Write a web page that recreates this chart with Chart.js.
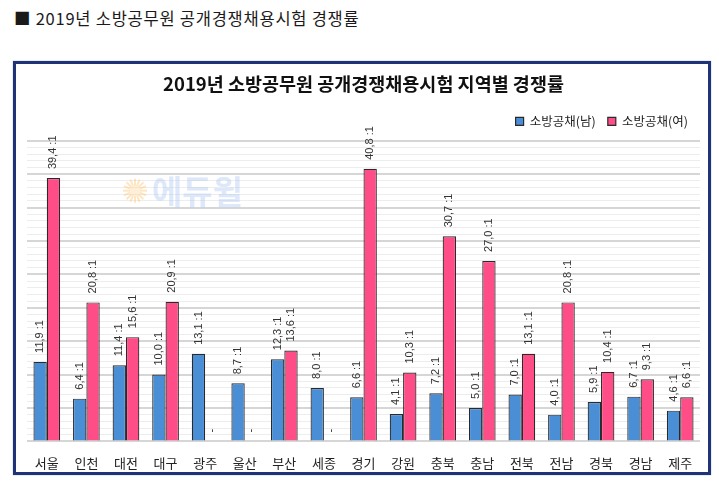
<!DOCTYPE html>
<html><head><meta charset="utf-8">
<script src="https://cdn.jsdelivr.net/npm/chart.js@4.4.1/dist/chart.umd.min.js"></script>
<style>
html,body{margin:0;padding:0;background:#fff;width:719px;height:495px;overflow:hidden;}
#head{position:absolute;left:14px;top:7px;font-family:"Noto Sans CJK KR","Noto Sans",sans-serif;font-size:16.5px;letter-spacing:0.75px;color:#1a1a1a;white-space:nowrap;line-height:22px;}
#frame{position:absolute;left:13px;top:61px;width:692px;height:408px;border:3px solid #1f3478;box-shadow:0 0 1px #8090c0;}
#wrap{position:absolute;left:0;top:0;width:719px;height:495px;}
</style></head>
<body>
<div id="head">■ 2019년 소방공무원 공개경쟁채용시험 경쟁률</div>
<div id="frame"></div>
<div id="wrap"><canvas id="c" width="719" height="495"></canvas></div>
<script>
const regions = ["서울","인천","대전","대구","광주","울산","부산","세종","경기","강원","충북","충남","전북","전남","경북","경남","제주"];
const maleRates = [11.9,6.4,11.4,10.0,13.1,8.7,12.3,8.0,6.6,4.1,7.2,5.0,7.0,4.0,5.9,6.7,4.6];
const femaleRates = [39.4,20.8,15.6,20.9,null,null,13.6,null,40.8,10.3,30.7,27.0,13.1,20.8,10.4,9.3,6.6];
const seriesNames = ["소방공채(남)","소방공채(여)"];
const chartTitle = "2019년 소방공무원 공개경쟁채용시험 지역별 경쟁률";

const fmt = v => v === null ? "-" : v.toFixed(1).replace('.', ',') + " :1";

const labelPlugin = {
  id: 'rotLabels',
  afterDatasetsDraw(chart) {
    const ctx = chart.ctx;
    ctx.save();
    ctx.font = '11px "Liberation Sans", Arial, sans-serif';
    ctx.fillStyle = '#333';
    ctx.textBaseline = 'middle';
    ctx.textAlign = 'left';
    chart.data.datasets.forEach((ds, di) => {
      const meta = chart.getDatasetMeta(di);
      meta.data.forEach((bar, i) => {
        const v = ds.data[i];
        const x = bar.x;
        const y = v === null ? chart.scales.y.getPixelForValue(0) : bar.y;
        ctx.save();
        ctx.translate(x, y - 9);
        ctx.rotate(-Math.PI / 2);
        ctx.fillText(fmt(v), 0, 0);
        ctx.restore();
      });
    });
    ctx.restore();
  }
};

const watermark = {
  id: 'wm',
  beforeDatasetsDraw(chart) {
    const ctx = chart.ctx;
    const a = chart.chartArea;
    const cx = a.left + 108, cy = a.top + 50;
    ctx.save();
    ctx.strokeStyle = 'rgba(255,200,120,0.45)';
    ctx.fillStyle = 'rgba(255,210,140,0.35)';
    ctx.lineWidth = 2;
    for (let k = 0; k < 16; k++) {
      const ang = k * Math.PI / 8;
      ctx.beginPath();
      ctx.moveTo(cx + Math.cos(ang) * 5, cy + Math.sin(ang) * 5);
      ctx.lineTo(cx + Math.cos(ang) * 12, cy + Math.sin(ang) * 12);
      ctx.stroke();
    }
    ctx.beginPath(); ctx.arc(cx, cy, 5, 0, Math.PI * 2); ctx.fill();
    ctx.font = 'bold 33px "Noto Sans CJK KR", sans-serif';
    ctx.fillStyle = 'rgba(175,200,245,0.42)';
    ctx.textBaseline = 'middle';
    ctx.fillText('에듀윌', cx + 17, cy + 1);
    ctx.restore();
  }
};

new Chart(document.getElementById('c'), {
  type: 'bar',
  data: {
    labels: regions,
    datasets: [
      { label: seriesNames[0], data: maleRates, backgroundColor: '#4a8ed6', borderColor: '#2a2a2a', borderWidth: 1.2 },
      { label: seriesNames[1], data: femaleRates, backgroundColor: '#ff4d88', borderColor: '#2a2a2a', borderWidth: 1.2 }
    ]
  },
  options: {
    responsive: false,
    animation: false,
    layout: { padding: { left: 27, right: 19, top: 73, bottom: 18 } },
    datasets: { bar: { categoryPercentage: 0.674, barPercentage: 1.0 } },
    plugins: {
      title: { display: true, text: chartTitle, color: '#111', font: { family: '"Noto Sans CJK KR", sans-serif', size: 18.5, weight: 'bold' }, padding: { top: 0, bottom: 8 } },
      legend: { position: 'top', align: 'end',
        labels: { boxWidth: 8, boxHeight: 8, padding: 12, color: '#222', font: { family: '"Noto Sans CJK KR", sans-serif', size: 12.5 } } },
      tooltip: { enabled: false }
    },
    scales: {
      x: { grid: { display: false }, border: { display: false },
        ticks: { color: '#222', padding: 6, font: { family: '"Noto Sans CJK KR", sans-serif', size: 13 } } },
      xTop: { type: 'category', position: 'top', grid: { display: false }, border: { display: false },
        ticks: { display: false }, afterFit(s) { s.height = 3; } },
      y: { min: 0, max: 45, display: true,
        ticks: { display: false, stepSize: 1 },
        border: { display: false },
        grid: { drawTicks: false,
          color: c => (c.tick && c.tick.value % 5 === 0) ? '#d6d6d6' : '#ededed',
          lineWidth: c => (c.tick && c.tick.value % 5 === 0) ? 2 : 1 } }
    }
  },
  plugins: [watermark, labelPlugin]
});
</script>
</body></html>
